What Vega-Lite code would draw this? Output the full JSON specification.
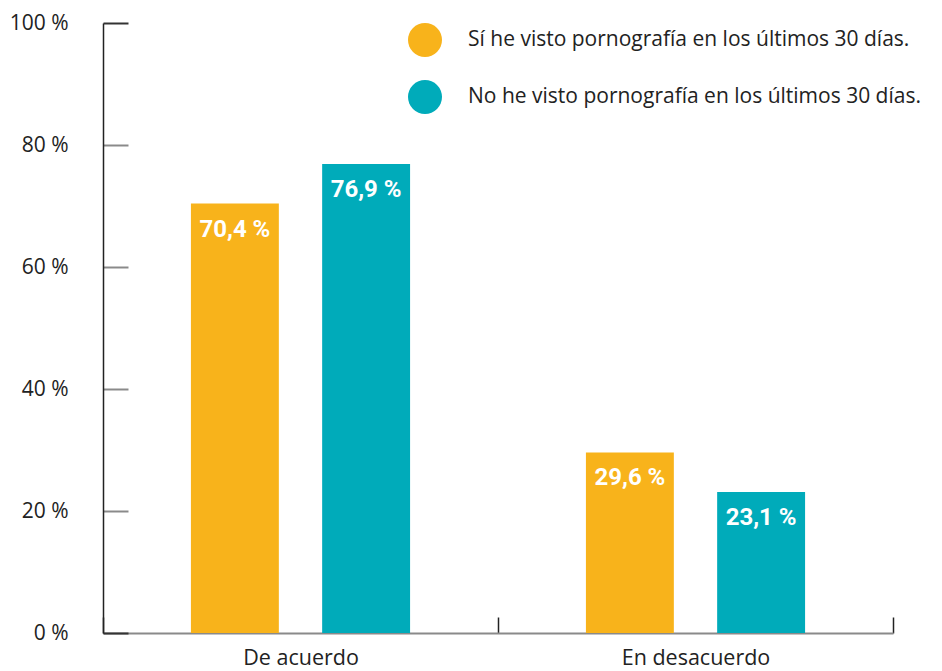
{
  "$schema": "https://vega.github.io/schema/vega-lite/v6.json",
  "width": 790,
  "height": 610,
  "autosize": {"type": "none"},
  "padding": {"left": 103, "top": 23, "right": 49, "bottom": 38},
  "background": "white",
  "config": {
    "view": {"stroke": null},
    "font": "Open Sans"
  },
  "data": {
    "values": [
      {"respuesta": "De acuerdo", "grupo": "Sí he visto pornografía en los últimos 30 días.", "valor": 70.4, "etiqueta": "70,4 %"},
      {"respuesta": "De acuerdo", "grupo": "No he visto pornografía en los últimos 30 días.", "valor": 76.9, "etiqueta": "76,9 %"},
      {"respuesta": "En desacuerdo", "grupo": "Sí he visto pornografía en los últimos 30 días.", "valor": 29.6, "etiqueta": "29,6 %"},
      {"respuesta": "En desacuerdo", "grupo": "No he visto pornografía en los últimos 30 días.", "valor": 23.1, "etiqueta": "23,1 %"}
    ]
  },
  "encoding": {
    "x": {
      "field": "respuesta",
      "type": "nominal",
      "sort": ["De acuerdo", "En desacuerdo"],
      "scale": {"paddingInner": 0, "paddingOuter": 0},
      "axis": {
        "title": null,
        "labelAngle": 0,
        "labelFont": "Open Sans",
        "labelFontSize": 21.5,
        "labelColor": "#222222",
        "labelPadding": 30,
        "tickBand": "extent",
        "tickSize": -16,
        "tickColor": "#222222",
        "tickWidth": 1.5,
        "domainColor": "#8a8a8a",
        "domainWidth": 2
      }
    },
    "xOffset": {
      "field": "grupo",
      "type": "nominal",
      "sort": ["Sí he visto pornografía en los últimos 30 días.", "No he visto pornografía en los últimos 30 días."],
      "scale": {"paddingInner": 0.33, "paddingOuter": 0.67}
    },
    "y": {
      "field": "valor",
      "type": "quantitative",
      "scale": {"domain": [0, 100], "nice": false},
      "axis": {
        "title": null,
        "values": [0, 20, 40, 60, 80, 100],
        "labelExpr": "datum.value + ' %'",
        "labelFont": "Open Sans",
        "labelFontSize": 21,
        "labelColor": "#222222",
        "labelPadding": 60,
        "grid": false,
        "tickSize": -25,
        "tickColor": {"condition": {"test": "datum.value === 0 || datum.value === 100", "value": "#333333"}, "value": "#8a8a8a"},
        "tickWidth": 2,
        "domainColor": "#222222",
        "domainWidth": 1.5
      }
    }
  },
  "layer": [
    {
      "mark": {"type": "bar"},
      "encoding": {
        "color": {
          "field": "grupo",
          "type": "nominal",
          "sort": ["Sí he visto pornografía en los últimos 30 días.", "No he visto pornografía en los últimos 30 días."],
          "scale": {"range": ["#F8B31B", "#00ABBA"]},
          "legend": {
            "title": null,
            "orient": "none",
            "legendX": 305,
            "legendY": 0,
            "padding": 0,
            "symbolType": "circle",
            "symbolSize": 1156,
            "symbolStrokeWidth": 0,
            "symbolOpacity": 1,
            "labelFont": "Open Sans",
            "labelFontSize": 21,
            "labelColor": "#222222",
            "labelOffset": 26,
            "labelLimit": 600,
            "rowPadding": 23
          }
        }
      }
    },
    {
      "mark": {
        "type": "text",
        "font": "Roboto",
        "fontWeight": "bold",
        "fontSize": 24,
        "color": "white",
        "baseline": "top",
        "dy": 14
      },
      "encoding": {
        "text": {"field": "etiqueta"}
      }
    }
  ]
}
